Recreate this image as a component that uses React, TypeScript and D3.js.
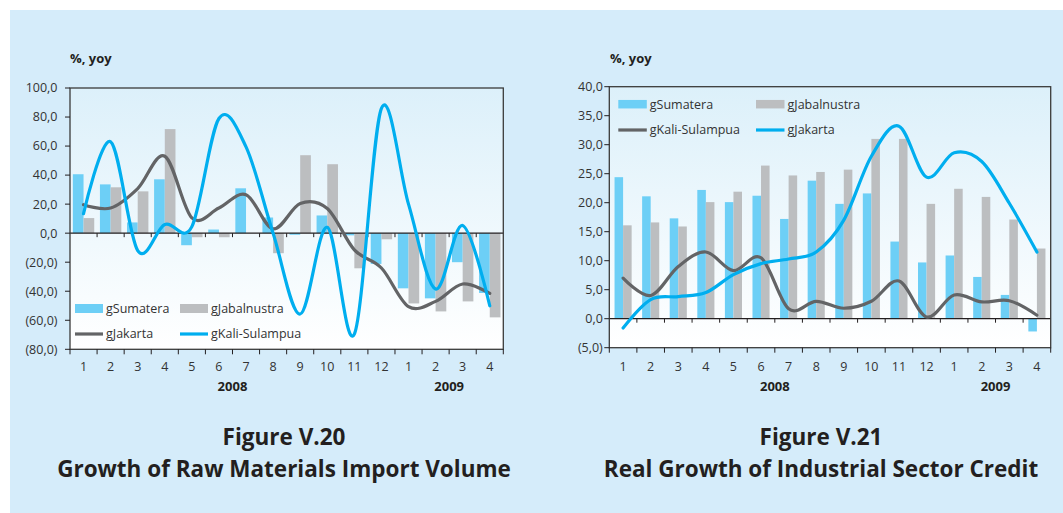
import React from 'react';
import * as d3 from 'd3';

// ---------- data ----------
const months = ["1", "2", "3", "4", "5", "6", "7", "8", "9", "10", "11", "12", "1", "2", "3", "4"];
const monthYears = ["2008", "2008", "2008", "2008", "2008", "2008", "2008", "2008", "2008", "2008", "2008", "2008", "2009", "2009", "2009", "2009"];

// Figure V.20 – Growth of Raw Materials Import Volume
const importSumatera = [40.6, 33.6, 7.4, 37.1, -8.3, 2.5, 30.9, 10.8, -1.1, 12.2, -1.5, -21.2, -38.0, -44.9, -20.0, -41.2];
const importJabalnustra = [10.4, 31.6, 28.8, 71.7, -2.8, -2.8, 0, -13.8, 53.7, 47.5, -24.2, -4.2, -48.4, -53.9, -47.0, -58.0];
const importJakarta = [19.6, 17.3, 30.7, 53.0, 10.5, 17.3, 26.5, 3.0, 20.5, 17.0, -11.5, -24.0, -50.6, -47.0, -35.0, -41.5];
const importKali = [13.4, 63.0, -12.0, 6.0, 4.5, 79.0, 59.4, 0.0, -55.7, 4.0, -69.5, 86.0, 20.0, -38.4, 5.3, -50.0];
const importTicks = [100, 80, 60, 40, 20, 0, -20, -40, -60, -80];

// Figure V.21 – Real Growth of Industrial Sector Credit
const creditSumatera = [24.4, 21.1, 17.3, 22.2, 20.1, 21.2, 17.2, 23.8, 19.8, 21.6, 13.3, 9.7, 10.9, 7.2, 4.1, -2.2];
const creditJabalnustra = [16.1, 16.6, 15.9, 20.1, 21.9, 26.4, 24.7, 25.3, 25.7, 31.0, 31.0, 19.8, 22.4, 21.0, 17.1, 12.1];
const creditKali = [7.0, 4.0, 9.0, 11.5, 8.3, 10.5, 1.7, 3.0, 1.8, 3.0, 6.5, 0.3, 4.1, 2.9, 3.1, 0.6];
const creditJakarta = [-1.6, 3.3, 3.8, 4.5, 7.6, 9.5, 10.3, 11.5, 17.0, 28.0, 33.2, 24.4, 28.6, 27.1, 19.9, 11.5];
const creditTicks = [40, 35, 30, 25, 20, 15, 10, 5, 0, -5];

// ---------- styles ----------
const C_BLUEBAR = '#6dcff6';
const C_GRAYBAR = '#bcbec0';
const C_DARK = '#636466';
const C_CYAN = '#00aeef';
const FONT = '"Open Sans", "Noto Sans", sans-serif';
const TXT = '#333333';

const fmt = (v: number) => {
  const s = d3.format('.1f')(Math.abs(v)).replace('.', ',');
  return v < 0 ? `(${s})` : s;
};

type LegendItem = { label: string; kind: 'bar' | 'line'; color: string };

type ChartProps = {
  id: string;
  x0: number; x1: number; yTop: number; yBottom: number;
  domain: [number, number];
  ticks: number[];
  barFrac: number;
  bars: { values: number[]; color: string }[];
  lines: { values: number[]; color: string }[];
  legend: LegendItem[];
  legendX: [number, number];
  legendY: [number, number];
  swatchW: number;
  swatchH: number;
  labelGap: number;
  monthLabelDy: number;
};

function Chart(p: ChartProps) {
  const x = d3.scaleBand<number>().domain(months.map((_, i) => i)).range([p.x0, p.x1]).padding(0);
  const y = d3.scaleLinear().domain(p.domain).range([p.yBottom, p.yTop]);
  const bw = x.bandwidth();
  const barW = bw * p.barFrac;
  const y0 = y(0);
  const line = d3.line<number>()
    .x((_, i) => (x(i) as number) + bw / 2)
    .y(v => y(v))
    .curve(d3.curveCardinal.tension(0));

  const boundaries = d3.range(months.length + 1).map(i => p.x0 + i * bw);
  const yearGroups = Array.from(d3.group(months.map((_, i) => i), i => monthYears[i]));

  return (
    <g>
      <defs>
        <linearGradient id={`bg-${p.id}`} x1="0" y1="0" x2="0" y2="1">
          <stop offset="0%" stopColor="#dcf0fa" />
          <stop offset="100%" stopColor="#ffffff" />
        </linearGradient>
        <clipPath id={`clip-${p.id}`}>
          <rect x={p.x0} y={p.yTop} width={p.x1 - p.x0} height={p.yBottom - p.yTop} />
        </clipPath>
      </defs>
      <rect x={p.x0} y={p.yTop} width={p.x1 - p.x0} height={p.yBottom - p.yTop} fill={`url(#bg-${p.id})`} />
      {/* bars */}
      <g clipPath={`url(#clip-${p.id})`}>
        {p.bars.map((s, si) =>
          s.values.map((v, i) => {
            const cx = (x(i) as number) + bw / 2;
            const bx = cx - barW * p.bars.length / 2 + si * barW;
            return (
              <rect key={`${si}-${i}`} x={bx} width={barW}
                y={Math.min(y(v), y0)} height={Math.abs(y(v) - y0)} fill={s.color} />
            );
          })
        )}
      </g>
      {/* zero line and its ticks */}
      <line x1={p.x0} x2={p.x1} y1={y0} y2={y0} stroke="#231f20" strokeWidth={1.3} />
      {boundaries.slice(1, -1).map((bx, i) => (
        <line key={`zt${i}`} x1={bx} x2={bx} y1={y0} y2={y0 + 4} stroke="#231f20" strokeWidth={1} />
      ))}
      {/* lines */}
      <g clipPath={`url(#clip-${p.id})`}>
        {p.lines.map((s, si) => (
          <path key={si} d={line(s.values) || ''} fill="none" stroke={s.color} strokeWidth={3.2}
            strokeLinejoin="round" strokeLinecap="round" />
        ))}
      </g>
      {/* frame */}
      <rect x={p.x0} y={p.yTop} width={p.x1 - p.x0} height={p.yBottom - p.yTop} fill="none" stroke="#3a3a3a" strokeWidth={1.3} />
      {/* y ticks */}
      {p.ticks.map(t => (
        <g key={`yt${t}`}>
          <line x1={p.x0 - 5} x2={p.x0} y1={y(t)} y2={y(t)} stroke="#231f20" strokeWidth={1} />
          <text x={p.x0 - p.labelGap} y={y(t)} dy="0.35em" textAnchor="end" fontFamily={FONT} fontSize={12.5} fill={TXT}>{fmt(t)}</text>
        </g>
      ))}
      {/* x ticks */}
      {boundaries.map((bx, i) => (
        <line key={`xt${i}`} x1={bx} x2={bx} y1={p.yBottom} y2={p.yBottom + 5} stroke="#231f20" strokeWidth={1} />
      ))}
      {months.map((m, i) => (
        <text key={`xl${i}`} x={(x(i) as number) + bw / 2} y={p.yBottom + p.monthLabelDy} dy="0.35em" textAnchor="middle"
          fontFamily={FONT} fontSize={12.5} fill={TXT}>{m}</text>
      ))}
      {yearGroups.map(([yr, idx]) => {
        const a = x(idx[0]) as number;
        const b = (x(idx[idx.length - 1]) as number) + bw;
        return (
          <text key={yr} x={(a + b) / 2} y={p.yBottom + p.monthLabelDy + 20} dy="0.35em" textAnchor="middle"
            fontFamily={FONT} fontSize={13} fontWeight="bold" fill="#231f20">{yr}</text>
        );
      })}
      {/* legend */}
      {p.legend.map((it, i) => {
        const col = i % 2, row = Math.floor(i / 2);
        const lx = p.legendX[col];
        const ly = p.legendY[row];
        return (
          <g key={it.label}>
            {it.kind === 'bar'
              ? <rect x={lx} y={ly - p.swatchH / 2} width={p.swatchW} height={p.swatchH} fill={it.color} />
              : <line x1={lx} x2={lx + p.swatchW} y1={ly} y2={ly} stroke={it.color} strokeWidth={3.2} />}
            <text x={lx + p.swatchW + 3} y={ly} dy="0.35em" fontFamily={FONT} fontSize={12.5} fill={TXT}>{it.label}</text>
          </g>
        );
      })}
    </g>
  );
}

export default function App() {
  return (
    <svg width={1063} height={513} style={{ position: 'absolute', left: 0, top: 0, display: 'block' }}>
      <rect x={0} y={0} width={1063} height={513} fill="#ffffff" />
      <rect x={10} y={10} width={1053} height={503} fill="#d5ecfa" />

      {/* Left chart */}
      <text x={70} y={58} dy="0.35em" fontFamily={FONT} fontSize={13} fontWeight="bold" fill="#231f20">%, yoy</text>
      <Chart
        id="l" x0={70} x1={503.3} yTop={88} yBottom={349.3} domain={[-80, 100]} ticks={importTicks}
        barFrac={0.395}
        bars={[{ values: importSumatera, color: C_BLUEBAR }, { values: importJabalnustra, color: C_GRAYBAR }]}
        lines={[{ values: importJakarta, color: C_DARK }, { values: importKali, color: C_CYAN }]}
        legend={[
          { label: 'gSumatera', kind: 'bar', color: C_BLUEBAR },
          { label: 'gJabalnustra', kind: 'bar', color: C_GRAYBAR },
          { label: 'gJakarta', kind: 'line', color: C_DARK },
          { label: 'gKali-Sulampua', kind: 'line', color: C_CYAN },
        ]}
        legendX={[75, 180]} legendY={[308.5, 334]} swatchW={28} swatchH={9}
        labelGap={12.5} monthLabelDy={17}
      />
      <text x={284} y={445} textAnchor="middle" fontFamily={FONT} fontSize={22.5} fontWeight="bold" fill="#231f20">Figure V.20</text>
      <text x={284} y={476.5} textAnchor="middle" fontFamily={FONT} fontSize={22.5} fontWeight="bold" fill="#231f20">Growth of Raw Materials Import Volume</text>

      {/* Right chart */}
      <text x={610} y={58} dy="0.35em" fontFamily={FONT} fontSize={13} fontWeight="bold" fill="#231f20">%, yoy</text>
      <Chart
        id="r" x0={609.3} x1={1050.7} yTop={86.7} yBottom={347.7} domain={[-5, 40]} ticks={creditTicks}
        barFrac={0.31}
        bars={[{ values: creditSumatera, color: C_BLUEBAR }, { values: creditJabalnustra, color: C_GRAYBAR }]}
        lines={[{ values: creditKali, color: C_DARK }, { values: creditJakarta, color: C_CYAN }]}
        legend={[
          { label: 'gSumatera', kind: 'bar', color: C_BLUEBAR },
          { label: 'gJabalnustra', kind: 'bar', color: C_GRAYBAR },
          { label: 'gKali-Sulampua', kind: 'line', color: C_DARK },
          { label: 'gJakarta', kind: 'line', color: C_CYAN },
        ]}
        legendX={[618.3, 756]} legendY={[104.2, 130]} swatchW={28.5} swatchH={8.5}
        labelGap={6.5} monthLabelDy={18.5}
      />
      <text x={821} y={445} textAnchor="middle" fontFamily={FONT} fontSize={22.5} fontWeight="bold" fill="#231f20">Figure V.21</text>
      <text x={821} y={476.5} textAnchor="middle" fontFamily={FONT} fontSize={22.5} fontWeight="bold" fill="#231f20">Real Growth of Industrial Sector Credit</text>
    </svg>
  );
}
